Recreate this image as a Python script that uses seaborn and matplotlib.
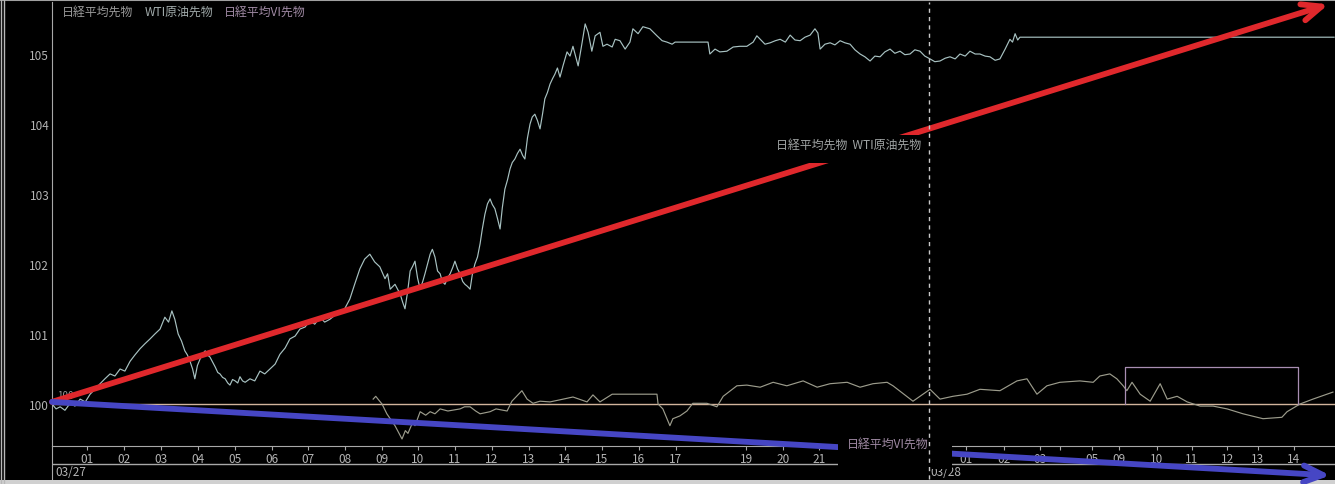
import numpy as np
import pandas as pd
import matplotlib.pyplot as plt
import seaborn as sns
from matplotlib.lines import Line2D
from matplotlib.patches import Rectangle

# x = chart hours from the left edge of the chart (compressed session axis)
nk_h = [0.00, 0.11, 0.22, 0.35, 0.49, 0.62, 0.76, 0.90, 1.03, 1.16, 1.30, 1.43, 1.57, 1.70, 1.84, 1.97,
        2.11, 2.24, 2.38, 2.51, 2.65, 2.78, 2.92, 3.05, 3.15, 3.24, 3.32, 3.41, 3.50, 3.59, 3.66, 3.73,
        3.80, 3.86, 3.93, 4.00, 4.07, 4.14, 4.20, 4.27, 4.34, 4.41, 4.48, 4.54, 4.61, 4.68, 4.75, 4.81,
        4.88, 4.95, 5.02, 5.08, 5.15, 5.22, 5.35, 5.48, 5.62, 5.75, 5.89, 6.03, 6.16, 6.30, 6.43, 6.57,
        6.70, 6.84, 6.97, 7.10, 7.24, 7.37, 7.51, 7.65, 7.78, 7.91, 8.05, 8.18, 8.32, 8.45, 8.59, 8.72,
        8.86, 9.00, 9.07, 9.14, 9.27, 9.41, 9.48, 9.54, 9.61, 9.68, 9.75, 9.81, 9.88, 9.95, 10.02, 10.08,
        10.15, 10.22, 10.28, 10.35, 10.42, 10.49, 10.55, 10.62, 10.69, 10.76, 10.83, 10.89, 10.96, 11.03,
        11.10, 11.16, 11.23, 11.30, 11.36, 11.43, 11.50, 11.57, 11.63, 11.70, 11.77, 11.84, 11.90, 11.97,
        12.04, 12.11, 12.17, 12.24, 12.31, 12.38, 12.44, 12.51, 12.58, 12.65, 12.72, 12.78, 12.85, 12.92,
        12.98, 13.05, 13.12, 13.19, 13.26, 13.32, 13.39, 13.46, 13.53, 13.59, 13.66,
        13.73, 13.81, 13.92, 14.00, 14.08, 14.22, 14.32, 14.41, 14.49, 14.59, 14.68, 14.81, 14.89, 15.00,
        15.14, 15.22, 15.35, 15.49, 15.62, 15.70, 15.84, 15.97, 16.16, 16.35, 16.49, 16.62, 16.76, 16.84,
        17.73, 17.78, 17.92, 18.05, 18.24, 18.41, 18.59, 18.78, 18.95, 19.05, 19.14, 19.27, 19.41, 19.55,
        19.68, 19.82, 19.95, 20.08, 20.22, 20.35, 20.49, 20.62, 20.70, 20.76, 20.89, 21.03, 21.16, 21.30,
        21.43, 21.57, 21.70, 21.84, 21.97, 22.11, 22.24, 22.38, 22.51, 22.65, 22.78, 22.92, 23.05, 23.19,
        23.32, 23.46, 23.59, 23.73, 23.86, 24.00, 24.14, 24.27, 24.41, 24.54, 24.68, 24.81, 24.95, 25.08,
        25.22, 25.35, 25.49, 25.62, 25.76, 25.89, 25.96, 26.03, 26.10, 26.16, 34.65]
nk_v = [100.00, 99.93, 99.96, 99.91, 100.01, 99.97, 100.07, 100.03, 100.14, 100.21, 100.29, 100.36, 100.43, 100.40, 100.50, 100.47,
        100.61, 100.70, 100.79, 100.86, 100.93, 101.00, 101.07, 101.24, 101.17, 101.33, 101.21, 101.00, 100.90, 100.76, 100.70, 100.61,
        100.50, 100.36, 100.55, 100.64, 100.71, 100.76, 100.70, 100.67, 100.60, 100.53, 100.45, 100.43, 100.38, 100.36, 100.30, 100.27,
        100.35, 100.33, 100.30, 100.39, 100.33, 100.31, 100.36, 100.33, 100.47, 100.43, 100.50, 100.57, 100.71, 100.80, 100.93, 100.97,
        101.07, 101.10, 101.19, 101.14, 101.24, 101.17, 101.21, 101.27, 101.29, 101.36, 101.50, 101.71, 101.93, 102.07, 102.14, 102.03,
        101.96, 101.79, 101.86, 101.64, 101.71, 101.57, 101.45, 101.36, 101.60, 101.90, 101.97, 102.04, 101.80, 101.64, 101.75, 101.86,
        102.00, 102.14, 102.21, 102.10, 101.90, 101.86, 101.75, 101.71, 101.80, 101.86, 101.95, 102.04, 101.93, 101.86,
        101.75, 101.71, 101.68, 101.64, 101.85, 102.00, 102.10, 102.29, 102.50, 102.71, 102.86, 102.93, 102.85, 102.79,
        102.65, 102.50, 102.80, 103.07, 103.20, 103.36, 103.45, 103.50, 103.58, 103.64, 103.55, 103.50, 103.80, 104.00,
        104.10, 104.14, 104.05, 103.93, 104.15, 104.36, 104.45, 104.57, 104.65, 104.71, 104.80,
        104.67, 104.83, 105.03, 104.97, 105.11, 104.83, 105.14, 105.43, 105.31, 105.04, 105.26, 105.31, 105.11, 105.14,
        105.10, 105.21, 105.19, 105.07, 105.17, 105.36, 105.29, 105.39, 105.36, 105.26, 105.19, 105.17, 105.14, 105.17,
        105.17, 105.00, 105.07, 105.03, 105.04, 105.10, 105.11, 105.11, 105.17, 105.26, 105.21, 105.14, 105.16, 105.19,
        105.21, 105.17, 105.27, 105.20, 105.19, 105.24, 105.27, 105.36, 105.30, 105.07, 105.14, 105.16, 105.13, 105.19,
        105.16, 105.14, 105.06, 105.00, 104.96, 104.90, 104.97, 104.96, 105.03, 105.07, 105.01, 105.04, 104.99, 105.00,
        105.06, 105.04, 104.97, 104.93, 104.89, 104.90, 104.94, 104.96, 104.93, 105.00, 104.97, 105.04, 105.00, 105.00,
        104.97, 104.96, 104.91, 104.93, 105.07, 105.21, 105.17, 105.29, 105.20, 105.24, 105.24]

wti_h = [8.68, 8.75, 8.81, 8.92, 9.05, 9.14, 9.27, 9.46, 9.55, 9.62, 9.75, 9.81, 9.95, 10.10, 10.22, 10.35,
         10.49, 10.70, 11.03, 11.15, 11.30, 11.45, 11.57, 11.84, 12.00, 12.30, 12.43, 12.70, 12.84, 13.00,
         13.19, 13.46, 13.73, 14.08, 14.46, 14.62, 14.81, 15.14, 16.35, 16.38, 16.51, 16.70, 16.78, 16.97,
         17.16, 17.32, 17.70, 17.97, 18.14, 18.51, 18.78, 19.14, 19.49, 19.86, 20.30, 20.68, 21.03, 21.49,
         21.84, 22.19, 22.57, 22.73, 23.27, 23.54, 23.73, 24.00, 24.35, 24.73, 25.08, 25.62, 26.08, 26.35,
         26.62, 26.89, 27.24, 27.78, 28.14, 28.32, 28.59, 28.78, 28.95, 29.05, 29.19, 29.41, 29.68, 29.95,
         30.14, 30.41, 30.68, 31.03, 31.38, 31.76, 32.19, 32.73, 33.24, 33.38, 33.73, 34.08, 34.62]
wti_v = [100.07, 100.11, 100.07, 100.00, 99.86, 99.79, 99.69, 99.50, 99.62, 99.58, 99.74, 99.69, 99.89, 99.84, 99.89, 99.86,
         99.93, 99.90, 99.93, 99.96, 99.96, 99.90, 99.86, 99.89, 99.93, 99.90, 100.04, 100.19, 100.07, 100.01,
         100.04, 100.03, 100.06, 100.10, 100.03, 100.13, 100.03, 100.14, 100.14, 100.00, 99.93, 99.69, 99.79, 99.83,
         99.90, 100.01, 100.01, 99.96, 100.11, 100.26, 100.27, 100.24, 100.31, 100.26, 100.33, 100.24, 100.29, 100.31,
         100.24, 100.29, 100.31, 100.26, 100.04, 100.14, 100.21, 100.07, 100.11, 100.14, 100.21, 100.19, 100.33, 100.36,
         100.14, 100.26, 100.31, 100.33, 100.31, 100.40, 100.43, 100.36, 100.26, 100.19, 100.31, 100.14, 100.04, 100.29,
         100.07, 100.11, 100.03, 99.97, 99.97, 99.93, 99.86, 99.79, 99.81, 99.89, 100.00, 100.07, 100.17]

vi_h = [29.00, 29.00, 33.68, 33.68]
vi_v = [100.00, 100.53, 100.53, 100.00]

tick_pos = [0.95, 1.95, 2.95, 3.95, 4.95, 5.95, 6.92, 7.92, 8.92, 9.89, 10.89, 11.89, 12.89, 13.86,
            14.86, 15.86, 16.86, 18.76, 19.76, 20.73,
            24.70, 25.73, 26.70, 27.24, 28.11, 28.84, 29.86, 30.81, 31.76, 32.59, 33.56]
tick_lab = ['01', '02', '03', '04', '05', '06', '07', '08', '09', '10', '11', '12', '13', '14',
            '15', '16', '17', '19', '20', '21',
            '01', '02', '03', '', '05', '09', '10', '11', '12', '13', '14']
y_ticks = [100, 101, 102, 103, 104, 105]
day_pos = [0.08, 23.75]
day_lab = ['03/27', '03/28']
day_split = 23.70
series_names = ['日経平均先物', 'WTI原油先物', '日経平均VI先物']

# hand-drawn trend arrows (start, end) in data units
arrow_up = ((0.0, 100.03), (34.50, 105.71))
arrow_down = ((0.0, 100.03), (34.55, 98.98))

plt.rcParams['font.family'] = ['Noto Sans CJK JP', 'DejaVu Sans']
W, H = 1335, 485
fig = plt.figure(figsize=(W / 100, H / 100), dpi=100, facecolor='black')
ax2 = fig.add_axes([52 / W, 5 / H, 1283 / W, 33 / H], facecolor='none', zorder=0)
ax = fig.add_axes([52 / W, 38 / H, 1283 / W, 444 / H], facecolor='none', zorder=1, sharex=ax2)

grey = '#a8a8a8'
nk = pd.DataFrame({'h': nk_h, 'v': nk_v})
wti = pd.DataFrame({'h': wti_h, 'v': wti_v})
vi = pd.DataFrame({'h': vi_h, 'v': vi_v})

ax.axhline(100, color='#d2b49c', lw=1, zorder=1)
sns.lineplot(data=nk, x='h', y='v', ax=ax, color='#a8c2c2', lw=0.85, estimator=None, sort=False, zorder=2)
sns.lineplot(data=wti, x='h', y='v', ax=ax, color='#9c9c8c', lw=0.85, estimator=None, sort=False, zorder=2)
sns.lineplot(data=vi, x='h', y='v', ax=ax, color='#a88eb2', lw=0.9, estimator=None, sort=False, zorder=2)

ax.set_xlim(0, 1283 / 37)
ax.set_ylim(100 - 42 / 70, 100 + 402 / 70)
ax.set_xlabel('')
ax.set_ylabel('')
ax.set_yticks(y_ticks, [str(t) for t in y_ticks])
ax.set_xticks(tick_pos, tick_lab)
ax.tick_params(axis='y', length=0, pad=2, labelsize=8.5, labelcolor='#b4b4b4')
ax.tick_params(axis='x', length=3, width=0.8, color=grey, pad=1, labelsize=8.5, labelcolor='#b4b4b4',
               labelbottom=True)
for s in ['top', 'right']:
    ax.spines[s].set_visible(False)
ax.spines['left'].set_color(grey)
ax.spines['bottom'].set_color(grey)
ax.grid(False)

ax2.set_ylim(0, 1)
ax2.axhline(15 / 33, color=grey, lw=1)
ax2.tick_params(axis='both', length=0, labelbottom=False, labelleft=False)
for s in ['top', 'right', 'bottom']:
    ax2.spines[s].set_visible(False)
ax2.spines['left'].set_color(grey)
for p, lab in zip(day_pos, day_lab):
    ax2.text(p, 7 / 33, lab, color='#b4b4b4', fontsize=8.5, va='center', ha='left')

# base value label
ax.text(0.15, 100.13, '100', color='#9a9a9a', fontsize=7, va='center', zorder=3)

for (p0, p1), col in [(arrow_up, '#e0282c'), (arrow_down, '#4646c4')]:
    ax.annotate('', xy=p1, xytext=p0, annotation_clip=False, zorder=5,
                arrowprops=dict(arrowstyle='->,head_length=1.4,head_width=0.6', color=col, lw=4.2,
                                shrinkA=0, shrinkB=0, clip_on=False))

# top legend
leg_cols = ['#9a9a9a', '#a0aaaa', '#a08aa4']
leg_x = [62, 145, 224]
for name, c, x in zip(series_names, leg_cols, leg_x):
    fig.text(x / W, 1 - 12 / H, name, color=c, fontsize=8.6, va='center', ha='left')

# in-chart labels with black boxes
fig.add_artist(Rectangle((768 / W, 1 - 164 / H), 160 / W, 28 / H, transform=fig.transFigure,
                         facecolor='black', edgecolor='none', zorder=6))
fig.text(776 / W, 1 - 145 / H, series_names[0] + '  ' + series_names[1], color='#a0a4a4',
         fontsize=8.6, va='center', ha='left', zorder=7)
fig.add_artist(Rectangle((838 / W, 1 - 470 / H), 114 / W, 40 / H, transform=fig.transFigure,
                         facecolor='black', edgecolor='none', zorder=6))
fig.text(847 / W, 1 - 444 / H, series_names[2], color='#a08aa4', fontsize=8.6, va='center',
         ha='left', zorder=7)

# day boundary, full height
split_x = (52 + day_split * 37) / W
fig.add_artist(Line2D([split_x] * 2, [5 / H, 1 - 3 / H], transform=fig.transFigure,
                      color='#c8c8c8', lw=1, ls=(0, (3, 3)), zorder=9))

# window frame
fig.add_artist(Line2D([0, 1], [1 - 1 / H] * 2, transform=fig.transFigure, color='#a0a0a0', lw=1.5))
for x in (1, 4):
    fig.add_artist(Line2D([x / W] * 2, [0, 1], transform=fig.transFigure, color='#b8b8b8', lw=1))
fig.add_artist(Rectangle((0, 0), 1, 4 / H, transform=fig.transFigure, facecolor='#d0d0d0',
                         edgecolor='none'))

fig.savefig('out.png', dpi=100, facecolor='black')
